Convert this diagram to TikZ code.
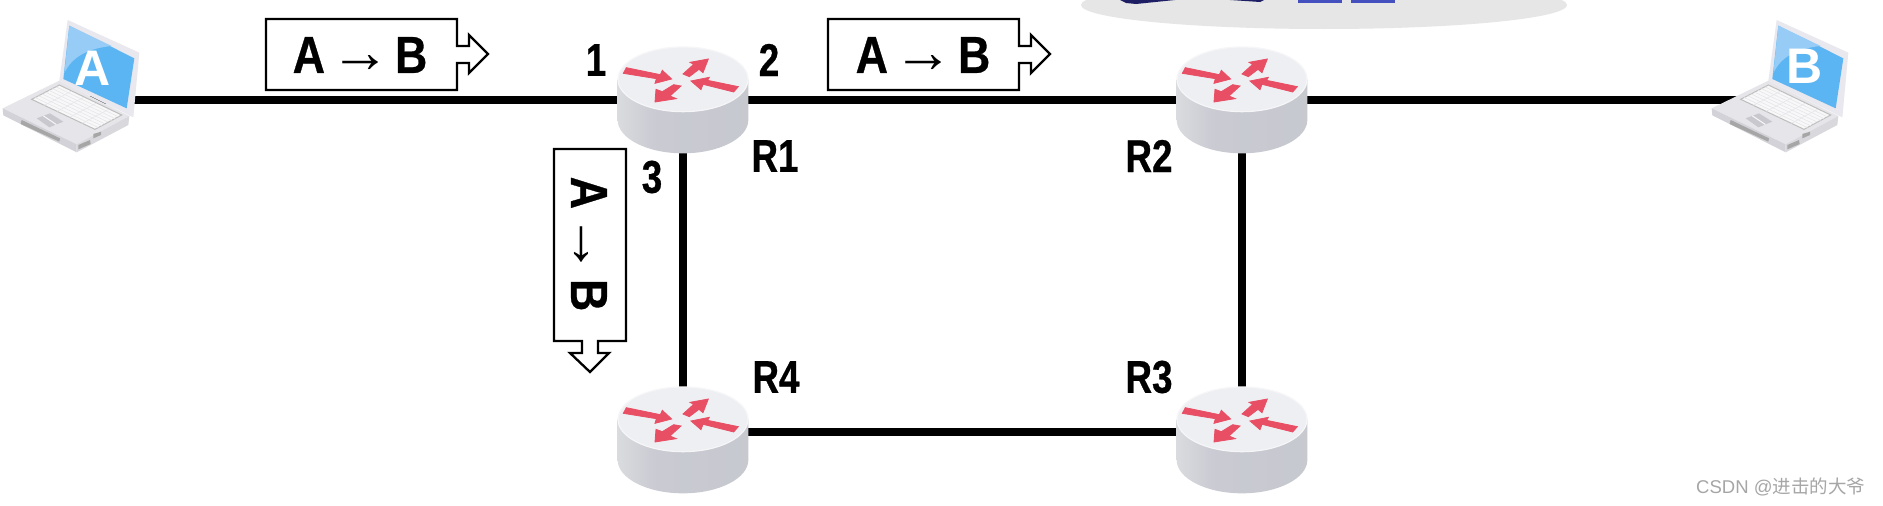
\documentclass[tikz,border=0pt]{standalone}
\usepackage{fontspec}
\usetikzlibrary{calc}
\newfontfamily\labfont[BoldFont={Liberation Sans Bold},BoldFeatures={FakeStretch=0.8,FakeBold=0.6}]{Liberation Sans}
\newfontfamily\payfont[BoldFont={Liberation Sans Bold},BoldFeatures={FakeStretch=0.86,FakeBold=0.6}]{Liberation Sans}
\newfontfamily\arrfont{Liberation Sans}
\newfontfamily\markfont{Liberation Sans}
\newfontfamily\cjkfont{Noto Sans CJK SC}
\definecolor{rarrow}{HTML}{E84E64}
\definecolor{rtop}{HTML}{EEEFF2}
\definecolor{rrim}{HTML}{F6F6F8}
\definecolor{sideA}{HTML}{E6E6E8}
\definecolor{sideB}{HTML}{DADBDE}
\definecolor{sideC}{HTML}{C9CAD2}
\definecolor{sideD}{HTML}{C6C8CE}
\definecolor{sideE}{HTML}{D0D1D6}
\definecolor{lapA}{HTML}{E6E6EA}
\definecolor{lapB}{HTML}{D2D2D8}
\definecolor{lapC}{HTML}{C8C8CE}
\definecolor{lapKey}{HTML}{F8F8F9}
\definecolor{lapEdge}{HTML}{BDBDBD}
\definecolor{lapDark}{HTML}{A6A6A6}
\definecolor{lapScreen}{HTML}{5BB5F2}
\definecolor{lapLight}{HTML}{96CCF5}
\definecolor{lapLid}{HTML}{E8E8EE}
\definecolor{cloud}{HTML}{E6E6E6}
\definecolor{deviceblue}{HTML}{4450BE}
\definecolor{devicedark}{HTML}{1E1E64}
\definecolor{markgrey}{HTML}{A6A6A6}
\pgfdeclarehorizontalshading{rside}{100bp}{
  color(0bp)=(sideA);
  color(25bp)=(sideB);
  color(40bp)=(sideC);
  color(92bp)=(sideD);
  color(100bp)=(sideE)}
\tikzset{
  anchorpt/.style={inner sep=0pt,minimum size=0pt},
  wire/.style={line width=8pt,black},
  packet/.style={draw=black,line width=2.3pt,fill=white,line join=miter},
  routerarrow/.style={fill=rarrow,draw=rarrow,line width=0.8pt,line join=miter},
  lab/.style={inner sep=0pt,font=\labfont\bfseries\fontsize{46}{46}\selectfont,text=black},
  paylab/.style={inner sep=0pt,font=\payfont\bfseries\fontsize{52}{52}\selectfont,text=black},
  hostlab/.style={inner sep=0pt,text=white,font=\arrfont\bfseries\fontsize{50}{50}\selectfont},
  markstyle/.style={inner sep=0pt,text=markgrey,anchor=west,font=\markfont\fontsize{18.5}{18.5}\selectfont}
}
\newcommand{\paytext}{A\kern5pt{\arrfont\mdseries\fontsize{60}{60}\selectfont\smash{→}}\kern5pt B}
\newcommand{\routerpic}[2]{%
\begin{scope}[x=0.33333pt,y=-0.33333pt,shift={(#1.center)},shift={(-546,-300+#2)}]
  \path[shading=rside] (350,238) -- (350,360) .. controls (350,415) and (438,460) .. (546,460)
     .. controls (654,460) and (742,415) .. (742,360) -- (742,238) -- cycle;
  \path[fill=rtop,draw=rrim,line width=1.2pt] (546,238) ellipse [x radius=195,y radius=97];
  \path[routerarrow] (367,220)--(376,203)--(478,224)--(484,211)--(512,237)--(462,250)--(466,236)--cycle;
  \path[routerarrow] (546,222)--(565,230)--(594,208)--(606,218)--(622,177)--(567,187)--(578,193)--cycle;
  \path[routerarrow] (712,260)--(698,276)--(606,253)--(600,269)--(570,243)--(625,232)--(620,241)--cycle;
  \path[routerarrow] (518,254)--(540,258)--(507,288)--(526,296)--(462,306)--(465,268)--(484,275)--cycle;
\end{scope}}
\newcommand{\laptoppic}[1]{%
\begin{scope}[x=0.33333pt,y=-0.33333pt,shift={(#1.center)},shift={(-201,-270)}]
  \fill[lapA] (8,295)--(178,212)--(388,318)--(230,403)--cycle;
  \fill[lapB] (8,295)--(230,403)--(230,427)--(10,316)--cycle;
  \fill[lapC!70!white] (230,403)--(388,318)--(385,345)--(230,427)--cycle;
  \fill[lapLid] (203,30)--(418,128)--(400,322)--(178,212)--cycle;
  \fill[lapScreen] (208,47)--(403,145)--(380,295)--(190,207)--cycle;
  \fill[lapLight] (208,47)--(335,108) .. controls (265,115) and (215,140) .. (193,190)--cycle;
  \coordinate (k1) at (95,268); \coordinate (k2) at (178,225);
  \coordinate (k3) at (365,315); \coordinate (k4) at (285,358);
  \path[fill=lapKey,draw=lapEdge,line width=1pt] (k1)--(k2)--(k3)--(k4)--cycle;
  \foreach \t in {0.125,0.25,...,0.9}{\draw[lapA,line width=0.6pt] ($(k1)!\t!(k2)$)--($(k4)!\t!(k3)$);}
  \foreach \t in {0.2,0.4,0.6,0.8}{\draw[lapA,line width=0.6pt] ($(k1)!\t!(k4)$)--($(k2)!\t!(k3)$);}
  \path[fill=lapC] (110,325)--(150,310)--(190,335)--(148,352)--cycle;
  \draw[lapKey,line width=1pt] (130,317.5)--(169,343.5);
  \fill[lapDark] (65,330)--(180,385)--(178,395)--(62,342)--cycle;
  \fill[lapDark] (235,405)--(270,390)--(272,402)--(235,418)--cycle;
  \fill[lapDark] (280,372)--(303,365)--(303,375)--(280,385)--cycle;
\end{scope}}
\newcommand{\packetshape}{(0,0)--(191,0)--(191,27)--(203,27)--(203,16)--(222,35)--(203,54)--(203,44)--(191,44)--(191,71)--(0,71)--cycle}
\begin{document}
\begin{tikzpicture}[x=1pt,y=-1pt]
\useasboundingbox (0,0) rectangle (1883,506);
\fill[white] (0,0) rectangle (1883,506);
\begin{scope}
  \clip (0,0) rectangle (1883,506);
  \fill[cloud] (1324,5) ellipse [x radius=243,y radius=24];
  \fill[deviceblue] (1298,0) rectangle (1342,3);
  \fill[deviceblue] (1351,0) rectangle (1395,3);
  \fill[devicedark] (1120,0)--(1126,3)--(1136,4)--(1175,0)--cycle;
  \fill[devicedark] (1230,0)--(1260,2)--(1264,0)--cycle;
\end{scope}
\node[anchorpt] (A) at (67,100) {};
\node[anchorpt] (B) at (1776,100) {};
\node[anchorpt] (R1) at (683,100) {};
\node[anchorpt] (R2) at (1242,100) {};
\node[anchorpt] (R3) at (1242,432) {};
\node[anchorpt] (R4) at (683,432) {};
\draw[wire] (A.center)--(R1.center);
\draw[wire] (R1.center)--(R2.center);
\draw[wire] (R2.center)--(B.center);
\draw[wire] (R1.center)--(R4.center);
\draw[wire] (R2.center)--(R3.center);
\draw[wire] (R4.center)--(R3.center);
\laptoppic{A}
\laptoppic{B}
\routerpic{R1}{0}
\routerpic{R2}{0}
\routerpic{R3}{24}
\routerpic{R4}{24}
\node[hostlab] (hostA) at (93,68) {A};
\node[hostlab] (hostB) at (1805,66) {B};
\begin{scope}[shift={(266,19)}]
  \path[packet] \packetshape;
\end{scope}
\node[paylab] (pay1) at (360,55) {\paytext};
\begin{scope}[shift={(828,19)}]
  \path[packet] \packetshape;
\end{scope}
\node[paylab] (pay2) at (923,55) {\paytext};
\path[packet] (554,149)--(626,149)--(626,341)--(598,341)--(598,353)--(609,353)--(590,372)--(570,353)--(582,353)--(582,341)--(554,341)--cycle;
\node[paylab,rotate=-90] (pay3) at (589,244) {\paytext};
\node[lab] (l1) at (596,60) {1};
\node[lab] (l2) at (769,60) {2};
\node[lab] (l3) at (652,177) {3};
\node[lab] (tR1) at (775,156) {R1};
\node[lab] (tR2) at (1149,156) {R2};
\node[lab] (tR3) at (1149,377) {R3};
\node[lab] (tR4) at (776,377) {R4};
\node[markstyle] (mark) at (1696,487) {CSDN @{\cjkfont 进击的大爷}};
\end{tikzpicture}
\end{document}
